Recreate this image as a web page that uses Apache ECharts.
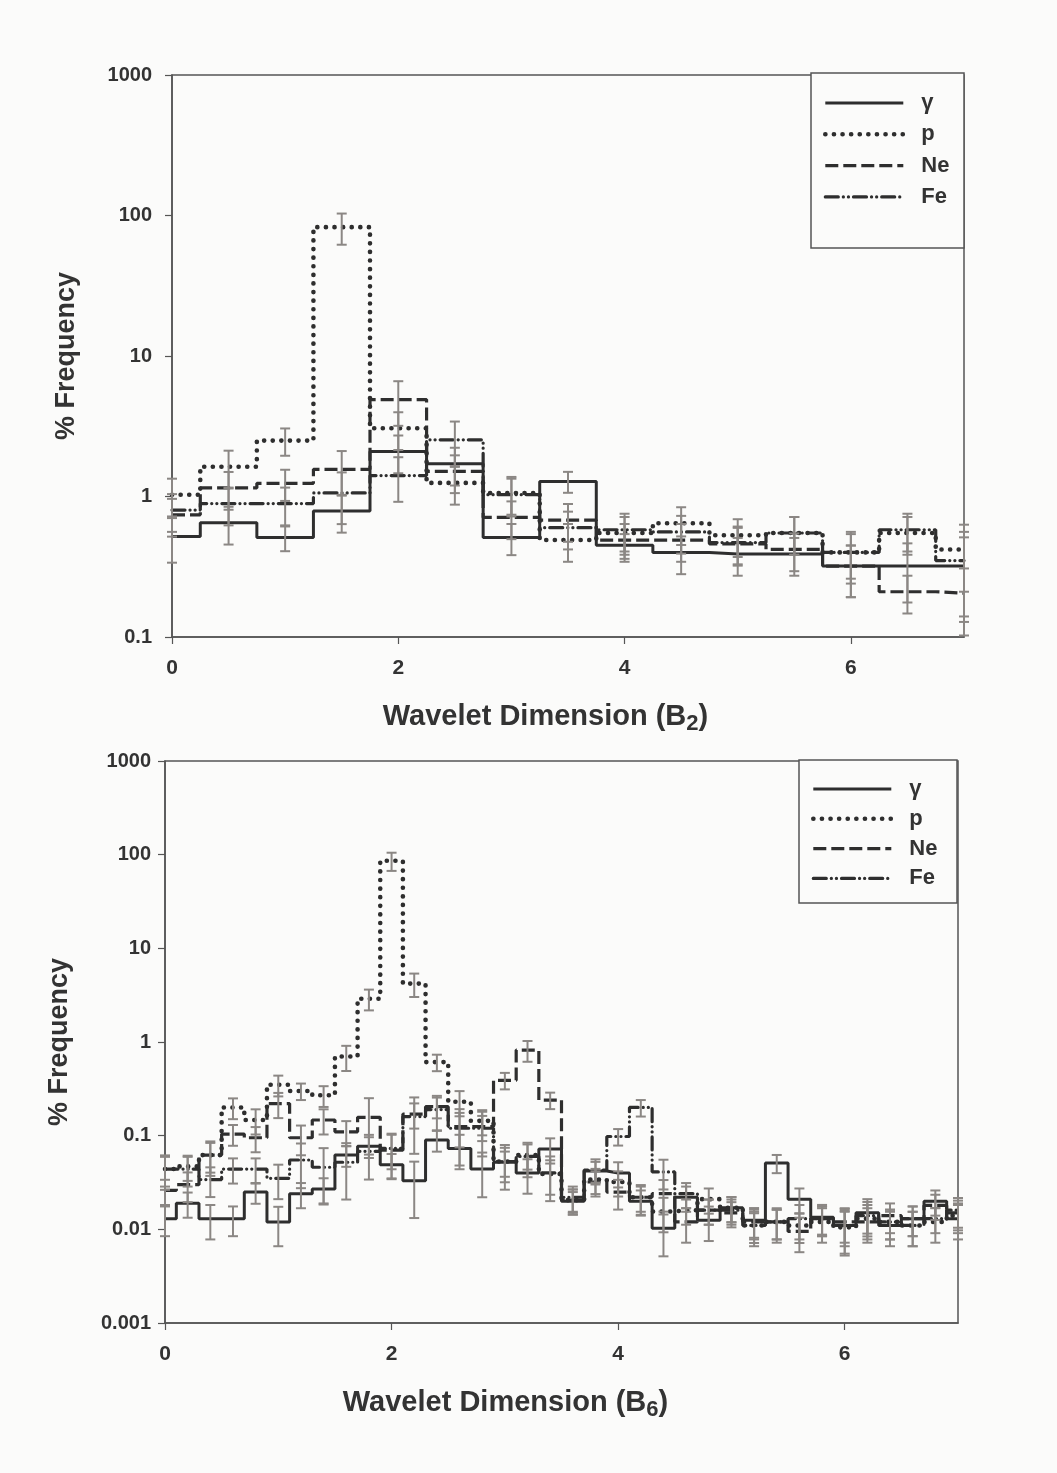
<!DOCTYPE html>
<html>
<head>
<meta charset="utf-8">
<script src="https://cdn.jsdelivr.net/npm/echarts@6/dist/echarts.min.js"></script>
<style>
html,body{margin:0;padding:0;background:#fbfbfa;}
#chart{width:1057px;height:1473px;}
</style>
</head>
<body>
<div id="chart"></div>
<script>
// series names (legend)
var names = ['γ', 'p', 'Ne', 'Fe'];

// ---- top panel: B2, bins of 0.5 ----
var binsB2 = [0, 0.5, 1, 1.5, 2, 2.5, 3, 3.5, 4, 4.5, 5, 5.5, 6, 6.5, 7];
var gammaB2 = [0.52, 0.65, 0.51, 0.79, 2.09, 1.71, 0.51, 1.28, 0.45, 0.40, 0.39, 0.39, 0.32, 0.32, 0.32];
var pB2     = [1.03, 1.63, 2.5, 82.6, 3.06, 1.25, 1.06, 0.49, 0.55, 0.645, 0.53, 0.55, 0.40, 0.55, 0.42];
var neB2    = [0.74, 1.15, 1.24, 1.56, 4.9, 1.51, 0.71, 0.68, 0.49, 0.49, 0.46, 0.42, 0.32, 0.21, 0.205];
var feB2    = [0.80, 0.89, 0.89, 1.06, 1.41, 2.53, 1.03, 0.60, 0.58, 0.56, 0.47, 0.55, 0.40, 0.58, 0.35];
// relative error (fraction of value)
var gammaErrB2 = [0.35, 0.3, 0.2, 0.3, 0.3, 0.3, 0.25, 0.17, 0.2, 0.3, 0.3, 0.3, 0.4, 0.45, 0.6];
var pErrB2     = [0.3, 0.3, 0.22, 0.25, 0.3, 0.3, 0.3, 0.3, 0.3, 0.3, 0.3, 0.3, 0.35, 0.3, 0.5];
var neErrB2    = [0.3, 0.3, 0.25, 0.35, 0.35, 0.3, 0.3, 0.3, 0.3, 0.3, 0.3, 0.3, 0.4, 0.3, 0.5];
var feErrB2    = [0.3, 0.3, 0.3, 0.4, 0.35, 0.35, 0.3, 0.3, 0.3, 0.3, 0.3, 0.3, 0.4, 0.3, 0.6];

// ---- bottom panel: B6, bins of 0.2 ----
var binsB6 = [0, 0.2, 0.4, 0.6, 0.8, 1.0, 1.2, 1.4, 1.6, 1.8, 2.0, 2.2, 2.4, 2.6, 2.8, 3.0, 3.2, 3.4,
              3.6, 3.8, 4.0, 4.2, 4.4, 4.6, 4.8, 5.0, 5.2, 5.4, 5.6, 5.8, 6.0, 6.2, 6.4, 6.6, 6.8, 7.0];
var gammaB6 = [0.013, 0.019, 0.013, 0.013, 0.025, 0.012, 0.024, 0.027, 0.062, 0.077, 0.049, 0.033, 0.090, 0.073, 0.044, 0.052, 0.040, 0.072,
               0.020, 0.042, 0.040, 0.020, 0.0103, 0.022, 0.0125, 0.017, 0.0125, 0.051, 0.021, 0.0135, 0.011, 0.015, 0.011, 0.013, 0.020, 0.013];
var pB6     = [0.044, 0.047, 0.062, 0.20, 0.147, 0.35, 0.30, 0.27, 0.70, 2.9, 86, 4.2, 0.61, 0.23, 0.144, 0.053, 0.062, 0.039,
               0.0205, 0.034, 0.032, 0.022, 0.0155, 0.016, 0.021, 0.017, 0.011, 0.012, 0.011, 0.012, 0.0105, 0.013, 0.012, 0.011, 0.012, 0.014];
var neB6    = [0.026, 0.030, 0.062, 0.104, 0.095, 0.22, 0.095, 0.147, 0.110, 0.157, 0.070, 0.170, 0.204, 0.125, 0.125, 0.39, 0.82, 0.24,
               0.0205, 0.032, 0.025, 0.022, 0.024, 0.012, 0.016, 0.015, 0.012, 0.012, 0.0095, 0.013, 0.012, 0.012, 0.014, 0.013, 0.018, 0.015];
var feB6    = [0.044, 0.044, 0.034, 0.044, 0.044, 0.035, 0.055, 0.046, 0.052, 0.068, 0.073, 0.16, 0.19, 0.12, 0.12, 0.053, 0.060, 0.040,
               0.022, 0.043, 0.098, 0.20, 0.041, 0.024, 0.016, 0.016, 0.011, 0.012, 0.013, 0.013, 0.011, 0.014, 0.012, 0.011, 0.013, 0.016];
var gammaErrB6 = [0.35, 0.3, 0.4, 0.35, 0.25, 0.45, 0.3, 0.3, 0.25, 0.25, 0.3, 0.6, 0.25, 0.4, 0.5, 0.3, 0.4, 0.3,
                  0.25, 0.25, 0.3, 0.3, 0.5, 0.3, 0.4, 0.3, 0.35, 0.22, 0.3, 0.35, 0.5, 0.4, 0.4, 0.35, 0.3, 0.4];
var pErrB6     = [0.35, 0.3, 0.35, 0.25, 0.3, 0.25, 0.2, 0.25, 0.3, 0.25, 0.22, 0.28, 0.2, 0.3, 0.3, 0.5, 0.3, 0.4,
                  0.3, 0.3, 0.3, 0.35, 0.4, 0.3, 0.3, 0.3, 0.35, 0.35, 0.35, 0.4, 0.5, 0.4, 0.35, 0.4, 0.4, 0.35];
var neErrB6    = [0.3, 0.35, 0.4, 0.25, 0.3, 0.3, 0.35, 0.3, 0.3, 0.6, 0.5, 0.3, 0.25, 0.4, 0.3, 0.2, 0.25, 0.2,
                  0.3, 0.3, 0.35, 0.3, 0.4, 0.4, 0.3, 0.3, 0.35, 0.35, 0.4, 0.35, 0.4, 0.4, 0.35, 0.35, 0.3, 0.35];
var feErrB6    = [0.4, 0.35, 0.35, 0.3, 0.3, 0.4, 0.5, 0.6, 0.6, 0.5, 0.4, 0.6, 0.4, 0.6, 0.5, 0.4, 0.4, 0.5,
                  0.3, 0.3, 0.2, 0.2, 0.35, 0.3, 0.3, 0.3, 0.4, 0.4, 0.4, 0.35, 0.4, 0.4, 0.35, 0.4, 0.3, 0.35];

var FONT = '"Liberation Sans", Arial, sans-serif';
var INK = '#2e2e2e';
var ERR = '#8b8784';
var lineStyles = [
    {type: 'solid', width: 3},
    {type: [0.1, 8.5], cap: 'round', width: 4.6},
    {type: [13, 5], width: 3.2},
    {type: [13, 5, 0.1, 5, 0.1, 5], cap: 'round', width: 3.2}
];

var chart = echarts.init(document.getElementById('chart'));

function stepSeries(name, xs, ys, idx, styleIdx) {
    return {
        type: 'line', name: name, xAxisIndex: idx, yAxisIndex: idx,
        step: 'middle', symbol: 'none', showSymbol: false,
        data: xs.map(function (x, i) { return [x, ys[i]]; }),
        lineStyle: Object.assign({color: INK}, lineStyles[styleIdx]),
        itemStyle: {color: INK},
        z: 2
    };
}

function errSeries(xs, ys, errs, idx) {
    return {
        type: 'custom', xAxisIndex: idx, yAxisIndex: idx, z: 3, clip: false,
        data: xs.map(function (x, i) { return [x, ys[i] * (1 - errs[i]), ys[i] * (1 + errs[i])]; }),
        encode: {x: 0, y: [1, 2]},
        renderItem: function (params, api) {
            var x = api.value(0);
            var lo = api.coord([x, api.value(1)]);
            var hi = api.coord([x, api.value(2)]);
            var st = {stroke: ERR, lineWidth: 2};
            return {type: 'group', children: [
                {type: 'line', shape: {x1: lo[0], y1: lo[1], x2: hi[0], y2: hi[1]}, style: st},
                {type: 'line', shape: {x1: lo[0] - 5, y1: lo[1], x2: lo[0] + 5, y2: lo[1]}, style: st},
                {type: 'line', shape: {x1: hi[0] - 5, y1: hi[1], x2: hi[0] + 5, y2: hi[1]}, style: st}
            ]};
        }
    };
}

function xAxis(idx, sub, padRight) {
    return {
        gridIndex: idx, type: 'value', min: 0, max: 7, interval: 2,
        axisLine: {show: true, lineStyle: {color: '#555', width: 1.5}},
        axisTick: {show: true, length: 7, lineStyle: {color: '#555', width: 1.2}},
        axisLabel: {fontSize: 21, fontWeight: 'bold', color: '#333', margin: 21, fontFamily: FONT, showMaxLabel: false},
        splitLine: {show: false},
        name: 'Wavelet Dimension (B{s|' + sub + '})', nameLocation: 'middle', nameGap: 62,
        nameTextStyle: {
            fontSize: 29, fontWeight: 'bold', color: '#333', fontFamily: FONT, padding: [0, padRight, 0, 0],
            rich: {s: {fontSize: 22, fontWeight: 'bold', color: '#333', fontFamily: FONT, padding: [14, 0, 0, 0]}}
        }
    };
}

function yAxis(idx, min, margin) {
    return {
        gridIndex: idx, type: 'log', logBase: 10, min: min, max: 1000,
        axisLine: {show: true, lineStyle: {color: '#555', width: 1.5}},
        axisTick: {show: true, length: 7, lineStyle: {color: '#555', width: 1.2}},
        minorTick: {show: false},
        axisLabel: {
            fontSize: 20, fontWeight: 'bold', color: '#333', margin: margin, fontFamily: FONT,
            formatter: function (v) { return String(+v.toPrecision(3)); }
        },
        splitLine: {show: false},
        name: '% Frequency', nameLocation: 'middle', nameGap: 92,
        nameTextStyle: {fontSize: 27, fontWeight: 'bold', color: '#333', fontFamily: FONT}
    };
}

var series = [];
var topY = [gammaB2, pB2, neB2, feB2];
var topE = [gammaErrB2, pErrB2, neErrB2, feErrB2];
var botY = [gammaB6, pB6, neB6, feB6];
var botE = [gammaErrB6, pErrB6, neErrB6, feErrB6];
for (var k = 0; k < 4; k++) {
    series.push(stepSeries(names[k], binsB2, topY[k], 0, k));
    series.push(stepSeries(names[k], binsB6, botY[k], 1, k));
}
for (var k = 0; k < 4; k++) {
    series.push(errSeries(binsB2, topY[k], topE[k], 0));
    series.push(errSeries(binsB6, botY[k], botE[k], 1));
}

function legend(left, top, gap) {
    return {
        data: names, orient: 'vertical', left: left, top: top, padding: 0,
        itemWidth: 78, itemHeight: 20, itemGap: gap, z: 10,
        itemStyle: {opacity: 0},
        lineStyle: {width: 'inherit', type: 'inherit', cap: 'inherit'},
        textStyle: {fontSize: 22, fontWeight: 'bold', color: '#333', fontFamily: FONT, lineHeight: 20, padding: [0, 0, 0, 13]},
        selectedMode: false
    };
}

var option = {
    backgroundColor: '#fbfbfa',
    animation: false,
    grid: [
        {left: 172, top: 75, width: 792, height: 562, show: true, borderColor: '#555', borderWidth: 1.5},
        {left: 165, top: 761, width: 793, height: 562, show: true, borderColor: '#555', borderWidth: 1.5}
    ],
    xAxis: [xAxis(0, '2', 45), xAxis(1, '6', 112)],
    yAxis: [yAxis(0, 0.1, 20), yAxis(1, 0.001, 14)],
    legend: [legend(823, 92, 9.3), legend(811, 778, 7.8)],
    graphic: [
        {type: 'rect', shape: {x: 811, y: 73, width: 153, height: 175}, style: {fill: '#fbfbfa', stroke: '#555', lineWidth: 1.5}, z: 5},
        {type: 'rect', shape: {x: 799, y: 760, width: 158, height: 143}, style: {fill: '#fbfbfa', stroke: '#555', lineWidth: 1.5}, z: 5}
    ],
    series: series
};

chart.setOption(option);
</script>
</body>
</html>
